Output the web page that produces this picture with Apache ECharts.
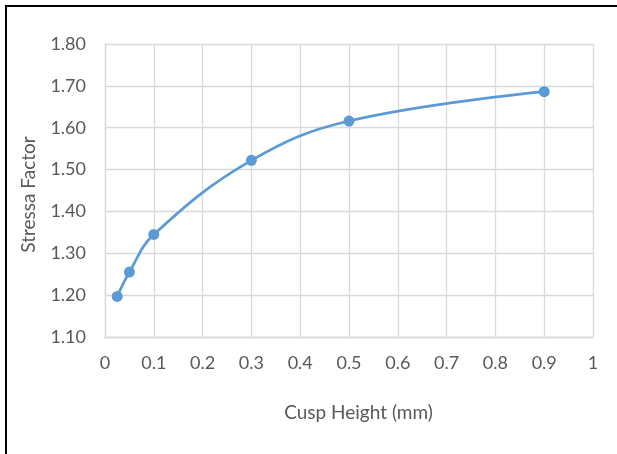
<!DOCTYPE html>
<html>
<head>
<meta charset="utf-8">
<script src="https://cdn.jsdelivr.net/npm/echarts@6/dist/echarts.min.js"></script>
<style>
html,body{margin:0;padding:0;background:#fff;}
#frame{position:absolute;left:5px;top:5px;width:612px;height:449px;border-left:2px solid #000;border-top:2px solid #000;box-sizing:border-box;}
#chart{position:absolute;left:0;top:0;width:617px;height:454px;}
</style>
</head>
<body>
<div id="frame"></div>
<div id="chart"></div>
<script>
const cuspHeight = [0.025, 0.05, 0.1, 0.3, 0.5, 0.9];
const stressaFactor = [1.197, 1.255, 1.345, 1.522, 1.616, 1.686];
const xTitle = 'Cusp Height (mm)';
const yTitle = 'Stressa Factor';

const chart = echarts.init(document.getElementById('chart'), null, {renderer: 'canvas'});
const font = 'Lato, "Open Sans", sans-serif';
const gridColor = '#D9D9D9';
const textColor = '#595959';

chart.setOption({
  animation: false,
  grid: {left: 105, right: 24, top: 44, bottom: 117, containLabel: false},
  xAxis: {
    type: 'value', min: 0, max: 1, interval: 0.1,
    name: xTitle, nameLocation: 'middle', nameGap: 66,
    nameTextStyle: {color: textColor, fontSize: 19, fontFamily: font, padding: [0, 0, 0, 19]},
    axisLine: {show: true, lineStyle: {color: gridColor, width: 1.3}},
    axisTick: {show: false},
    axisLabel: {color: textColor, fontSize: 18, fontFamily: font, margin: 17,
      formatter: v => (Math.round(v * 10) / 10).toString()},
    splitLine: {show: true, lineStyle: {color: gridColor, width: 1.3}}
  },
  yAxis: {
    type: 'value', min: 1.1, max: 1.8, interval: 0.1,
    name: yTitle, nameLocation: 'middle', nameGap: 67, nameRotate: 90,
    nameTextStyle: {color: textColor, fontSize: 19, fontFamily: font, padding: [0, 8, 0, 0]},
    axisLine: {show: true, lineStyle: {color: gridColor, width: 1.3}},
    axisTick: {show: false},
    axisLabel: {color: textColor, fontSize: 18, fontFamily: font, margin: 19,
      formatter: v => v.toFixed(2)},
    splitLine: {show: true, lineStyle: {color: gridColor, width: 1.3}}
  },
  series: [{
    type: 'line',
    data: cuspHeight.map((x, i) => [x, stressaFactor[i]]),
    smooth: 0.4,
    symbol: 'circle', symbolSize: 11,
    lineStyle: {color: '#5B9BD5', width: 2.75},
    itemStyle: {color: '#5B9BD5'}
  }]
});
</script>
</body>
</html>
